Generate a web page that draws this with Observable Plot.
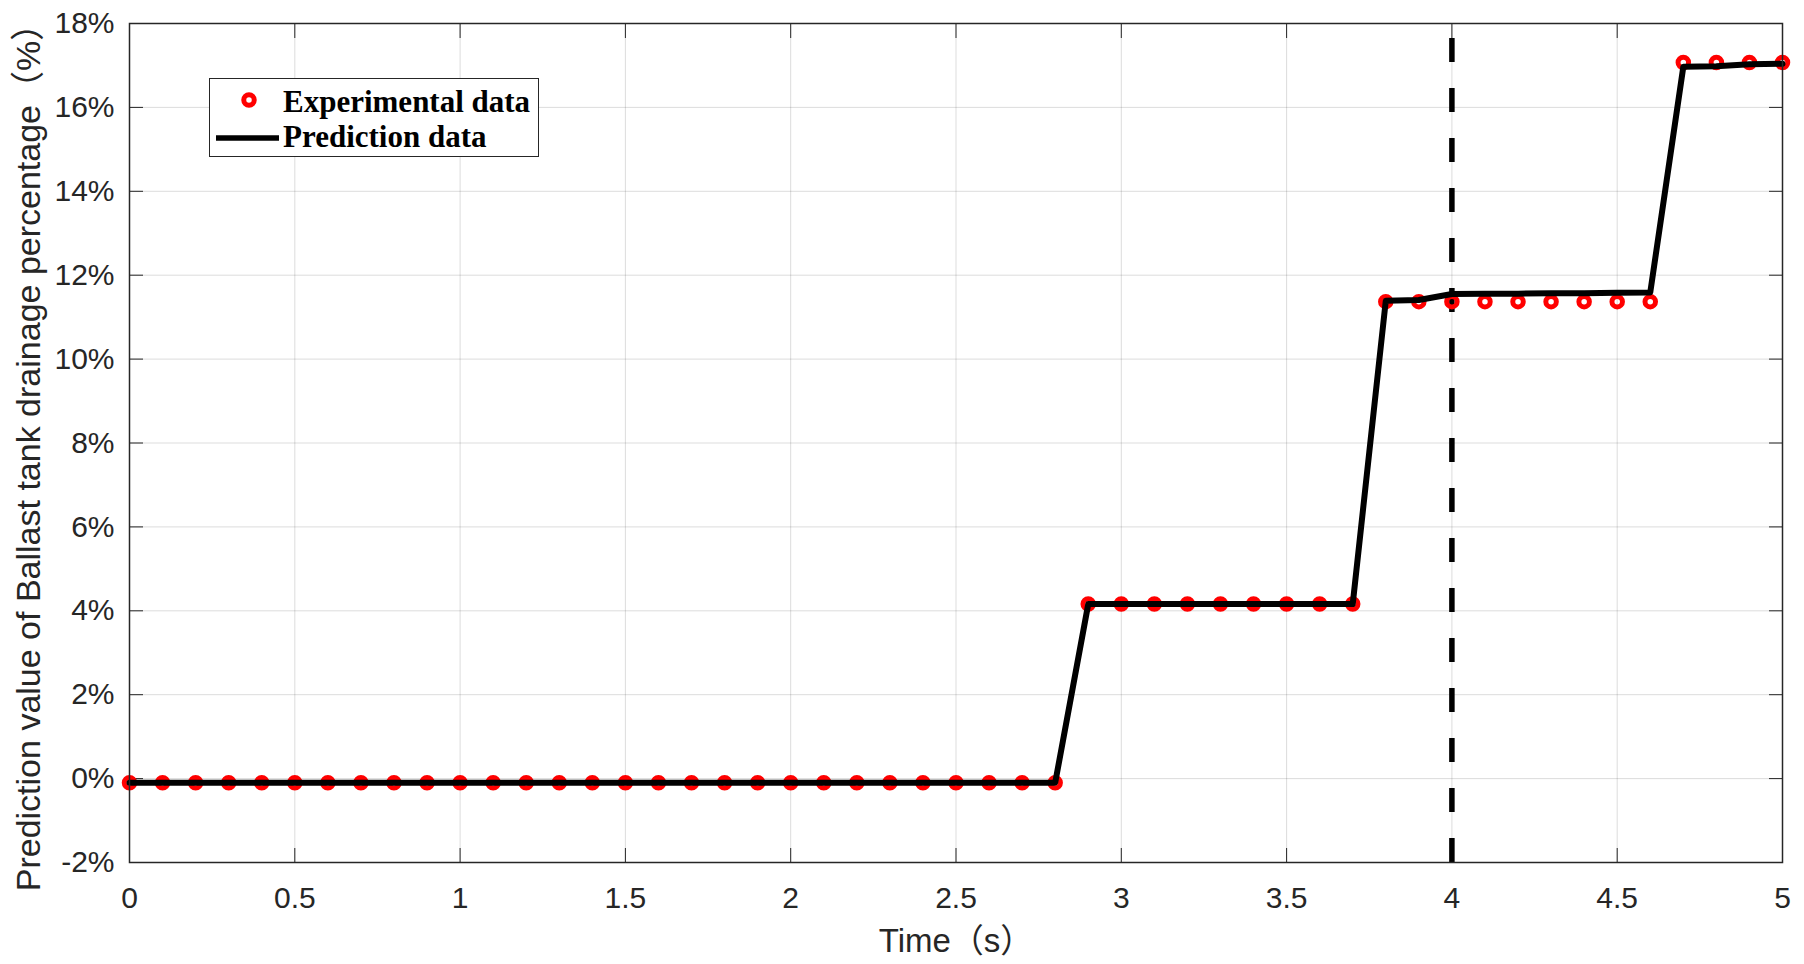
<!DOCTYPE html>
<html>
<head>
<meta charset="utf-8">
<script src="https://cdn.jsdelivr.net/npm/d3@7"></script>
<script src="https://cdn.jsdelivr.net/npm/@observablehq/plot@0.6"></script>
<style>
  html, body { margin: 0; padding: 0; background: #fff; }
  #wrap { position: relative; width: 1804px; height: 964px; }
  svg text { text-spacing-trim: space-all; }
  #legend {
    position: absolute; left: 209px; top: 78px; width: 328px; height: 77px;
    border: 1.5px solid #262626; background: #fff; box-sizing: content-box;
    font-family: "Liberation Serif", "Times New Roman", serif; font-weight: bold; font-size: 31px; color: #000;
  }
  #legend svg { position: absolute; left: 0; top: 0; }
  #legend .t { position: absolute; left: 73px; line-height: 1; white-space: nowrap; }
</style>
</head>
<body>
<div id="wrap">
  <div id="chart"></div>
  <div id="legend">
    <svg width="80" height="77">
      <circle cx="39" cy="21" r="5.25" fill="none" stroke="#ff0000" stroke-width="5"></circle>
      <line x1="6" x2="69" y1="59" y2="59" stroke="#000" stroke-width="5.5"></line>
    </svg>
    <div class="t" style="top:7px">Experimental data</div>
    <div class="t" style="top:42px">Prediction data</div>
  </div>
</div>
<script>
// Time (s)
const times = [0, 0.1, 0.2, 0.3, 0.4, 0.5, 0.6, 0.7, 0.8, 0.9,
  1.0, 1.1, 1.2, 1.3, 1.4, 1.5, 1.6, 1.7, 1.8, 1.9,
  2.0, 2.1, 2.2, 2.3, 2.4, 2.5, 2.6, 2.7, 2.8, 2.9,
  3.0, 3.1, 3.2, 3.3, 3.4, 3.5, 3.6, 3.7, 3.8, 3.9,
  4.0, 4.1, 4.2, 4.3, 4.4, 4.5, 4.6, 4.7, 4.8, 4.9, 5.0];

// Experimental data (%)
const experimental = [-0.1, -0.1, -0.1, -0.1, -0.1, -0.1, -0.1, -0.1, -0.1, -0.1,
  -0.1, -0.1, -0.1, -0.1, -0.1, -0.1, -0.1, -0.1, -0.1, -0.1,
  -0.1, -0.1, -0.1, -0.1, -0.1, -0.1, -0.1, -0.1, -0.1, 4.16,
  4.16, 4.16, 4.16, 4.16, 4.16, 4.16, 4.16, 4.16, 11.37, 11.37,
  11.37, 11.37, 11.37, 11.37, 11.37, 11.37, 11.37, 17.07, 17.07, 17.07, 17.07];

// Prediction data (%)
const prediction = [-0.1, -0.1, -0.1, -0.1, -0.1, -0.1, -0.1, -0.1, -0.1, -0.1,
  -0.1, -0.1, -0.1, -0.1, -0.1, -0.1, -0.1, -0.1, -0.1, -0.1,
  -0.1, -0.1, -0.1, -0.1, -0.1, -0.1, -0.1, -0.1, -0.1, 4.16,
  4.16, 4.16, 4.16, 4.16, 4.16, 4.16, 4.16, 4.16, 11.39, 11.41,
  11.55, 11.56, 11.56, 11.57, 11.57, 11.58, 11.59, 16.97, 16.98, 17.03, 17.04];

// Vertical dashed marker (s)
const markerTime = [4];

const xTicks = [0, 0.5, 1, 1.5, 2, 2.5, 3, 3.5, 4, 4.5, 5];
const yTicks = [-2, 0, 2, 4, 6, 8, 10, 12, 14, 16, 18];
const xLabel = "Time（s）";
const yLabel = "Prediction value of Ballast tank drainage percentage（%）";

const rows = times.map((t, i) => ({t, exp: experimental[i], pred: prediction[i]}));

const axisColor = "#262626";
const sans = "'Liberation Sans', 'Noto Sans CJK SC', Arial, sans-serif";

const chart = Plot.plot({
  width: 1804,
  height: 964,
  marginLeft: 129,
  marginRight: 22,
  marginTop: 23,
  marginBottom: 102,
  style: {fontFamily: sans, background: "#fff", color: axisColor},
  x: {domain: [0, 5]},
  y: {domain: [-2, 18]},
  marks: [
    Plot.gridX(xTicks, {stroke: axisColor, strokeOpacity: 0.16, strokeWidth: 1}),
    Plot.gridY(yTicks, {stroke: axisColor, strokeOpacity: 0.16, strokeWidth: 1}),
    // tick labels
    Plot.axisX(xTicks, {anchor: "bottom", tickSize: 0, tickPadding: 24, tickFormat: d => String(d), fontSize: 30, fill: axisColor, label: null}),
    Plot.axisY(yTicks, {anchor: "left", tickSize: 0, tickPadding: 15, tickFormat: d => d + "%", fontSize: 30, fill: axisColor, label: null}),
    // inward ticks on all four sides
    Plot.axisX(xTicks, {anchor: "bottom", tickSize: 14, dy: -14, text: null, label: null, stroke: axisColor}),
    Plot.axisX(xTicks, {anchor: "top", tickSize: 14, dy: 14, text: null, label: null, stroke: axisColor}),
    Plot.axisY(yTicks, {anchor: "left", tickSize: 14, dx: 14, text: null, label: null, stroke: axisColor}),
    Plot.axisY(yTicks, {anchor: "right", tickSize: 14, dx: -14, text: null, label: null, stroke: axisColor}),
    // axis titles
    Plot.text([xLabel], {frameAnchor: "bottom", dx: 0, dy: 89, lineAnchor: "bottom", fontSize: 33, fill: axisColor}),
    Plot.text([yLabel], {frameAnchor: "left", dx: -114, dy: 6, rotate: -90, textAnchor: "middle", lineAnchor: "top", fontSize: 34, fill: axisColor}),
    // dashed vertical line
    Plot.ruleX(markerTime, {stroke: "#000", strokeWidth: 5.5, strokeDasharray: "24,26", strokeDashoffset: 35}),
    // data
    Plot.dot(rows, {x: "t", y: "exp", r: 5.25, stroke: "#ff0000", strokeWidth: 5, fill: "none"}),
    Plot.line(rows, {x: "t", y: "pred", stroke: "#000", strokeWidth: 6, strokeLinejoin: "round"}),
    Plot.frame({stroke: axisColor, strokeWidth: 1.5})
  ]
});
document.getElementById("chart").appendChild(chart);
</script>
</body>
</html>
